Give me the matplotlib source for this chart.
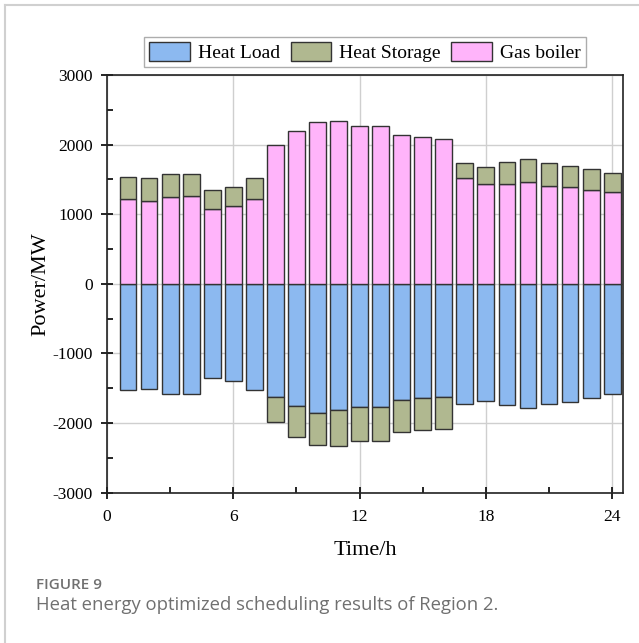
import numpy as np
import matplotlib
matplotlib.use("Agg")
import matplotlib.pyplot as plt
from matplotlib.lines import Line2D
from matplotlib.patches import Patch

# data (MW per hour)
hours = np.arange(1, 25)
gas_boiler = [1224, 1186, 1244, 1258, 1076, 1115, 1220, 1990, 2200, 2324, 2334, 2262,
              2267, 2133, 2105, 2080, 1521, 1430, 1430, 1468, 1411, 1387, 1353, 1316]
heat_storage = [307, 330, 334, 320, 273, 281, 305, -359, -440, -464, -511, -492,
                -492, -464, -460, -454, 210, 253, 320, 325, 320, 311, 297, 272]
heat_load = [-1531, -1516, -1578, -1578, -1349, -1392, -1525, -1626, -1760, -1856,
             -1818, -1765, -1770, -1664, -1640, -1626, -1727, -1684, -1745, -1789,
             -1731, -1698, -1646, -1583]

x_ticks = [0, 6, 12, 18, 24]
y_ticks = [-3000, -2000, -1000, 0, 1000, 2000, 3000]

C_LOAD    = "#8cb9f0"
C_STORAGE = "#b0b890"
C_BOILER  = "#ffb4fa"
EDGE      = "#333333"

plt.rcParams["font.family"] = ["Liberation Serif", "DejaVu Serif"]
plt.rcParams["axes.unicode_minus"] = False

fig = plt.figure(figsize=(6.39, 6.43), dpi=100)
ax = fig.add_axes([0.1674, 0.2337, 0.8071, 0.6497])

gas_boiler = np.array(gas_boiler)
heat_storage = np.array(heat_storage)
heat_load = np.array(heat_load)

# discharge stacks on top of boiler, charge stacks below the load
st_pos = np.where(heat_storage > 0, heat_storage, 0)
st_neg = np.where(heat_storage < 0, heat_storage, 0)

w = 0.8
kw = dict(width=w, edgecolor=EDGE, linewidth=1.0, zorder=3)
ax.bar(hours, heat_load, color=C_LOAD, **kw)
ax.bar(hours, gas_boiler, color=C_BOILER, **kw)
ax.bar(hours[st_pos > 0], st_pos[st_pos > 0], bottom=gas_boiler[st_pos > 0],
       color=C_STORAGE, **kw)
ax.bar(hours[st_neg < 0], st_neg[st_neg < 0], bottom=heat_load[st_neg < 0],
       color=C_STORAGE, **kw)

ax.set_xlim(0, 24.5)
ax.set_ylim(-3000, 3000)
ax.set_xticks(x_ticks)
ax.set_yticks(y_ticks)
ax.set_xticks(np.arange(3, 24, 6), minor=True)
ax.set_yticks(np.arange(-2500, 3000, 1000), minor=True)
ax.tick_params(which="major", direction="inout", length=8, width=1.2,
               labelsize=12.5)
ax.tick_params(axis="y", which="major", pad=6)
ax.tick_params(axis="x", which="major", pad=8)
ax.tick_params(which="minor", direction="in", length=4, width=1.2)
ax.grid(True, which="major", color="#cfcfcf", linewidth=1.0, zorder=0)
ax.set_axisbelow(True)
for s in ax.spines.values():
    s.set_linewidth(1.2)
    s.set_color("#222222")

ax.set_xlabel("Time/h", fontsize=16, labelpad=11)
ax.set_ylabel("Power/MW", fontsize=16, labelpad=2)

handles = [Patch(facecolor=C_LOAD, edgecolor=EDGE, label="Heat Load"),
           Patch(facecolor=C_STORAGE, edgecolor=EDGE, label="Heat Storage"),
           Patch(facecolor=C_BOILER, edgecolor=EDGE, label="Gas boiler")]
leg = fig.legend(handles=handles, loc="center", ncol=3,
                 bbox_to_anchor=(365 / 639, 1 - 52 / 643), fontsize=14,
                 frameon=True, fancybox=False, edgecolor="#999999",
                 handlelength=2.1, handleheight=1.1, handletextpad=0.4,
                 columnspacing=0.55, borderpad=0.25, borderaxespad=0)
leg.get_frame().set_linewidth(1.0)

# caption
fig.text(36 / 639, 1 - 585 / 643, "FIGURE 9", family="Open Sans",
         fontweight="semibold", fontsize=11, color="#707070", va="center")
fig.text(36 / 639, 1 - 605 / 643,
         "Heat energy optimized scheduling results of Region 2.",
         family="Open Sans", fontsize=13.3, color="#707070", va="center")

# light panel border on the left and top
fig.add_artist(Line2D([4.5 / 639, 4.5 / 639], [0, 1 - 5 / 643],
                      color="#d0d0d0", linewidth=1.5))
fig.add_artist(Line2D([4.5 / 639, 1], [1 - 5 / 643, 1 - 5 / 643],
                      color="#d0d0d0", linewidth=1.5))

fig.savefig("out.png", dpi=100)
